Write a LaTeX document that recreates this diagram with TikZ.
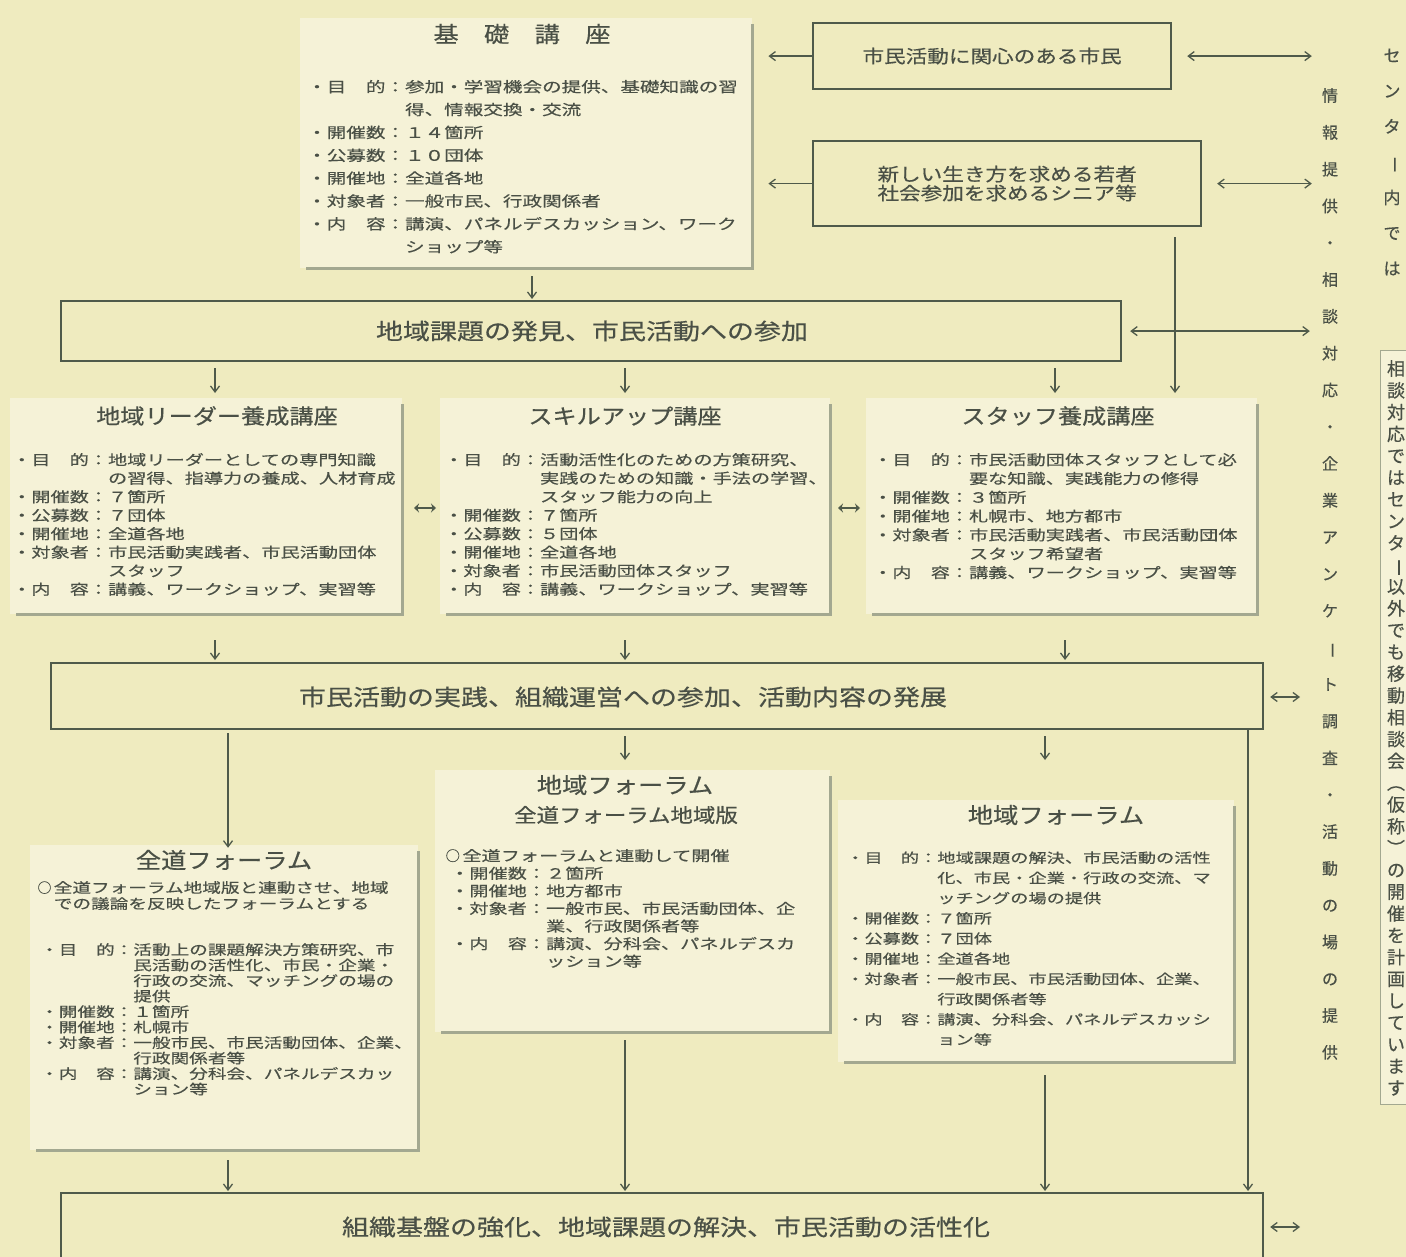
\documentclass[tikz,border=0pt]{standalone}
\usepackage{fontspec}
\usepackage{graphicx}
\usetikzlibrary{arrows.meta}
\newfontfamily\jbody[FakeStretch=1.35,FakeBold=0.4]{Noto Sans CJK JP}
\newfontfamily\jtitle[FakeStretch=1.15,FakeBold=0.5]{Noto Sans CJK JP}
\newfontfamily\jbar[FakeStretch=1.2,FakeBold=0.5]{Noto Sans CJK JP}
\newfontfamily\jv[FakeBold=0.4]{Noto Sans CJK JP}
\definecolor{bgc}{HTML}{EFEBBF}
\definecolor{boxc}{HTML}{F5F2D7}
\definecolor{textc}{HTML}{4A5046}
\definecolor{linec}{HTML}{4F5A4A}
\definecolor{shadc}{HTML}{A3A890}
\newcommand\vlongmark{\rotatebox[origin=c]{-90}{ー}}
\newcommand\circmark[1]{\makebox[#1][c]{\jv ○}}
\begin{document}
\begin{tikzpicture}[x=1pt,y=-1pt,
  txt/.style={inner sep=0pt, text=textc},
  dbox/.style={fill=boxc, draw=none, inner sep=0pt, anchor=north west},
  shad/.style={draw=shadc, line width=3pt},
  frame/.style={draw=linec, line width=2.2pt, inner sep=0pt, anchor=north west, text=textc, align=center},
  arr/.style={draw=linec, line width=1.3pt, -{Straight Barb[length=6pt,width=9pt]}},
  darr/.style={draw=linec, line width=1.3pt, {Straight Barb[length=6pt,width=9pt]}-{Straight Barb[length=6pt,width=9pt]}},
  eqarr/.style={draw=linec, line width=2.4pt, {Stealth[length=5pt,width=9pt]}-{Stealth[length=5pt,width=9pt]}},
  body/.style={txt, align=left, anchor=north west},
  ttl/.style={txt, font=\jtitle\fontsize{21}{21}\selectfont},
  ttlb/.style={txt, font=\jtitle\fontsize{22}{22}\selectfont},
  bartxt/.style={txt, font=\jbar\fontsize{22.5}{22.5}\selectfont},
  vcol/.style={txt, align=center, anchor=north}
]
\fill[bgc] (0,0) rectangle (1406,1257);
\useasboundingbox (0,0) rectangle (1406,1257);
\clip (0,0) rectangle (1406,1257);

% ---------- 基礎講座 ----------
\node[dbox, minimum width=452pt, minimum height=250pt] (kiso) at (300,18) {};
\draw[shad] ([yshift=-6pt]kiso.north east) -- (kiso.south east) -- ([xshift=6pt]kiso.south west);
\node[ttlb] (kisoT) at (522,34) {基　礎　講　座};
\node[body, font=\jbody\fontsize{14.5}{22.86}\selectfont] (kisoB) at (307,79.75) {%
・目　的：参加・学習機会の提供、基礎知識の習\\
　　　　　得、情報交換・交流\\
・開催数：１４箇所\\
・公募数：１０団体\\
・開催地：全道各地\\
・対象者：一般市民、行政関係者\\
・内　容：講演、パネルデスカッション、ワーク\\
　　　　　ショップ等};

% ---------- top boxes ----------
\node[frame, minimum width=358pt, minimum height=66pt, font=\jbar\fontsize{18}{19}\selectfont] (top1) at (812,22) {市民活動に関心のある市民};
\node[frame, minimum width=388pt, minimum height=85pt, font=\jbar\fontsize{18}{19}\selectfont] (top2) at (812,140) {新しい生き方を求める若者\\社会参加を求めるシニア等};

% ---------- bars ----------
\node[frame, minimum width=1060pt, minimum height=60pt] (bar1) at (60,300) {};
\node[bartxt] (bar1T) at (592,331) {地域課題の発見、市民活動への参加};
\node[frame, minimum width=1212pt, minimum height=66pt] (bar2) at (50,662) {};
\node[bartxt] (bar2T) at (623,697) {市民活動の実践、組織運営への参加、活動内容の発展};
\node[frame, minimum width=1202pt, minimum height=100pt] (bar3) at (60,1192) {};
\node[bartxt] (bar3T) at (666,1227) {組織基盤の強化、地域課題の解決、市民活動の活性化};

% ---------- row 2 ----------
\node[dbox, minimum width=392pt, minimum height=216pt] (lb) at (10,398) {};
\draw[shad] ([yshift=-6pt]lb.north east) -- (lb.south east) -- ([xshift=6pt]lb.south west);
\node[ttl] (lbT) at (217,416) {地域リーダー養成講座};
\node[body, font=\jbody\fontsize{14.2}{18.5}\selectfont] (lbB) at (12,452.9) {%
・目　的：地域リーダーとしての専門知識\\
　　　　　の習得、指導力の養成、人材育成\\
・開催数：７箇所\\
・公募数：７団体\\
・開催地：全道各地\\
・対象者：市民活動実践者、市民活動団体\\
　　　　　スタッフ\\
・内　容：講義、ワークショップ、実習等};

\node[dbox, minimum width=390pt, minimum height=216pt] (mb) at (440,398) {};
\draw[shad] ([yshift=-6pt]mb.north east) -- (mb.south east) -- ([xshift=6pt]mb.south west);
\node[ttl] (mbT) at (625,416) {スキルアップ講座};
\node[body, font=\jbody\fontsize{14.2}{18.5}\selectfont] (mbB) at (444,452.9) {%
・目　的：活動活性化のための方策研究、\\
　　　　　実践のための知識・手法の学習、\\
　　　　　スタッフ能力の向上\\
・開催数：７箇所\\
・公募数：５団体\\
・開催地：全道各地\\
・対象者：市民活動団体スタッフ\\
・内　容：講義、ワークショップ、実習等};

\node[dbox, minimum width=391pt, minimum height=216pt] (rb) at (866,398) {};
\draw[shad] ([yshift=-6pt]rb.north east) -- (rb.south east) -- ([xshift=6pt]rb.south west);
\node[ttl] (rbT) at (1058,416) {スタッフ養成講座};
\node[body, font=\jbody\fontsize{14.2}{18.8}\selectfont] (rbB) at (873,452.9) {%
・目　的：市民活動団体スタッフとして必\\
　　　　　要な知識、実践能力の修得\\
・開催数：３箇所\\
・開催地：札幌市、地方都市\\
・対象者：市民活動実践者、市民活動団体\\
　　　　　スタッフ希望者\\
・内　容：講義、ワークショップ、実習等};

% ---------- row 3 ----------
\node[dbox, minimum width=388pt, minimum height=305pt] (zb) at (30,845) {};
\draw[shad] ([yshift=-6pt]zb.north east) -- (zb.south east) -- ([xshift=6pt]zb.south west);
\node[ttlb] (zbT) at (224,860) {全道フォーラム};
\node[body, font=\jbody\fontsize{13.8}{16}\selectfont] (zbI) at (35,881) {%
\circmark{18.6pt}全道フォーラム地域版と連動させ、地域\\
　での議論を反映したフォーラムとする};
\node[body, font=\jbody\fontsize{13.8}{15.5}\selectfont] (zbB) at (40,943) {%
・目　的：活動上の課題解決方策研究、市\\
　　　　　民活動の活性化、市民・企業・\\
　　　　　行政の交流、マッチングの場の\\
　　　　　提供\\
・開催数：１箇所\\
・開催地：札幌市\\
・対象者：一般市民、市民活動団体、企業、\\
　　　　　行政関係者等\\
・内　容：講演、分科会、パネルデスカッ\\
　　　　　ション等};

\node[dbox, minimum width=395pt, minimum height=262pt] (md) at (435,770) {};
\draw[shad] ([yshift=-6pt]md.north east) -- (md.south east) -- ([xshift=6pt]md.south west);
\node[ttlb] (mdT) at (625,785) {地域フォーラム};
\node[txt, font=\jtitle\fontsize{19.5}{19.5}\selectfont] (mdS) at (626,815) {全道フォーラム地域版};
\node[body, font=\jbody\fontsize{14.2}{17.6}\selectfont] (mdB) at (443,848.9) {%
\circmark{19.2pt}全道フォーラムと連動して開催\\
\hspace*{7pt}・開催数：２箇所\\
\hspace*{7pt}・開催地：地方都市\\
\hspace*{7pt}・対象者：一般市民、市民活動団体、企\\
\hspace*{7pt}　　　　　業、行政関係者等\\
\hspace*{7pt}・内　容：講演、分科会、パネルデスカ\\
\hspace*{7pt}　　　　　ッション等};

\node[dbox, minimum width=396pt, minimum height=262pt] (rd) at (838,800) {};
\draw[shad] ([yshift=-6pt]rd.north east) -- (rd.south east) -- ([xshift=6pt]rd.south west);
\node[ttlb] (rdT) at (1056,815) {地域フォーラム};
\node[body, font=\jbody\fontsize{13.5}{20.2}\selectfont] (rdB) at (846,851.25) {%
・目　的：地域課題の解決、市民活動の活性\\
　　　　　化、市民・企業・行政の交流、マ\\
　　　　　ッチングの場の提供\\
・開催数：７箇所\\
・公募数：７団体\\
・開催地：全道各地\\
・対象者：一般市民、市民活動団体、企業、\\
　　　　　行政関係者等\\
・内　容：講演、分科会、パネルデスカッシ\\
　　　　　ョン等};

% ---------- right columns ----------
\node[vcol, font=\jv\fontsize{16}{36.8}\selectfont] (vinfo) at (1330,88) {情\\報\\提\\供\\・\\相\\談\\対\\応\\・\\企\\業\\ア\\ン\\ケ\\\vlongmark\\ト\\調\\査\\・\\活\\動\\の\\場\\の\\提\\供};
\node[vcol, font=\jv\fontsize{17}{35.5}\selectfont] (vcenter) at (1392,48.5) {セ\\ン\\タ\\\vlongmark\\内\\で\\は};
\node[dbox, draw=shadc, line width=1pt, minimum width=50pt, minimum height=754pt] (note) at (1380,350) {};
\node[vcol, font=\jv\fontsize{18}{21.8}\selectfont] (noteT) at (1396,360) {相\\談\\対\\応\\で\\は\\セ\\ン\\タ\\\vlongmark\\以\\外\\で\\も\\移\\動\\相\\談\\会\\︵\\仮\\称\\︶\\の\\開\\催\\を\\計\\画\\し\\て\\い\\ま\\す};

% ---------- connector x positions ----------
\coordinate (xk) at (532,0);
\coordinate (xa) at (215,0);
\coordinate (xb) at (625,0);
\coordinate (xc) at (1055,0);
\coordinate (xd) at (1175,0);
\coordinate (xe) at (228,0);
\coordinate (xf) at (1045,0);
\coordinate (xg) at (1248,0);
\coordinate (xh) at (1065,0);
\coordinate (xi) at (1300,0);
\coordinate (e1a) at (414,508);
\coordinate (e1b) at (436,508);
\coordinate (e2a) at (838,508);
\coordinate (e2b) at (860,508);

% ---------- connectors ----------
\draw[arr, shorten <=8pt, shorten >=1pt] (xk |- kiso.south) -- (xk |- bar1.north);
\draw[arr, shorten >=16pt] (top1.west) -- (kiso.east |- top1.west);
\draw[arr, shorten >=16pt] (top2.west) -- (kiso.east |- top2.west);
\draw[darr, shorten <=15pt, shorten >=10pt] (top1.east) -- (vinfo.west |- top1.east);
\draw[darr, shorten <=15pt, shorten >=10pt] (top2.east) -- (vinfo.west |- top2.east);
\draw[darr, shorten <=8pt, shorten >=12pt] (bar1.east) -- (vinfo.west |- bar1.east);
\draw[darr, shorten <=6pt] (bar2T -| bar2.east) -- (bar2T -| xi);
\draw[darr, shorten <=6pt] (bar3T -| bar3.east) -- (bar3T -| xi);

\draw[arr, shorten <=6pt, shorten >=5pt] (xa |- bar1.south) -- (xa |- lb.north);
\draw[arr, shorten <=6pt, shorten >=5pt] (xb |- bar1.south) -- (xb |- mb.north);
\draw[arr, shorten <=6pt, shorten >=5pt] (xc |- bar1.south) -- (xc |- rb.north);
\draw[arr, shorten <=10pt, shorten >=5pt] (xd |- top2.south) -- (xd |- rb.north);

\draw[eqarr] (e1a) -- (e1b);
\draw[eqarr] (e2a) -- (e2b);

\draw[arr, shorten <=26pt, shorten >=2pt] (xa |- lb.south) -- (xa |- bar2.north);
\draw[arr, shorten <=26pt, shorten >=2pt] (xb |- mb.south) -- (xb |- bar2.north);
\draw[arr, shorten <=26pt, shorten >=2pt] (xh |- rb.south) -- (xh |- bar2.north);

\draw[arr, shorten <=3pt, shorten >=2pt] (xe |- bar2.south) -- (xe |- zbT.north);
\draw[arr, shorten <=6pt, shorten >=10pt] (xb |- bar2.south) -- (xb |- md.north);
\draw[arr, shorten <=6pt, shorten >=40pt] (xf |- bar2.south) -- (xf |- rd.north);
\draw[arr, shorten >=1pt] (xg |- bar2.south) -- (xg |- bar3.north);

\draw[arr, shorten <=10pt, shorten >=1pt] (xe |- zb.south) -- (xe |- bar3.north);
\draw[arr, shorten <=8pt, shorten >=1pt] (xb |- md.south) -- (xb |- bar3.north);
\draw[arr, shorten <=13pt, shorten >=1pt] (xf |- rd.south) -- (xf |- bar3.north);
\end{tikzpicture}
\end{document}
